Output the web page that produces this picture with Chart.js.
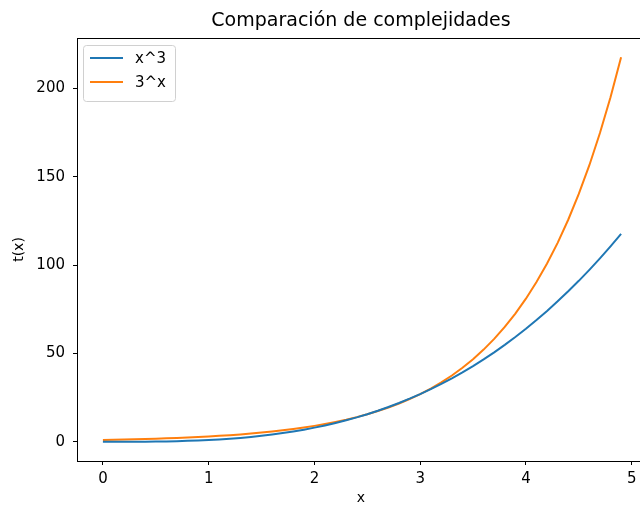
<!DOCTYPE html>
<html>
<head>
<meta charset="utf-8">
<script src="https://cdn.jsdelivr.net/npm/chart.js@4.4.0/dist/chart.umd.min.js"></script>
<style>
  html, body { margin: 0; padding: 0; background: #fff; overflow: hidden; }
  #wrap { width: 700px; height: 506px; }
</style>
</head>
<body>
<div id="wrap"><canvas id="myChart" width="700" height="506"></canvas></div>
<script>
// x values 0 .. 4.9
const xs = [0, 0.1, 0.2, 0.3, 0.4, 0.5, 0.6, 0.7, 0.8, 0.9,
  1, 1.1, 1.2, 1.3, 1.4, 1.5, 1.6, 1.7, 1.8, 1.9,
  2, 2.1, 2.2, 2.3, 2.4, 2.5, 2.6, 2.7, 2.8, 2.9,
  3, 3.1, 3.2, 3.3, 3.4, 3.5, 3.6, 3.7, 3.8, 3.9,
  4, 4.1, 4.2, 4.3, 4.4, 4.5, 4.6, 4.7, 4.8, 4.9];

const cubic = [0, 0.001, 0.008, 0.027, 0.064, 0.125, 0.216, 0.343, 0.512, 0.729,
  1, 1.331, 1.728, 2.197, 2.744, 3.375, 4.096, 4.913, 5.832, 6.859,
  8, 9.261, 10.648, 12.167, 13.824, 15.625, 17.576, 19.683, 21.952, 24.389,
  27, 29.791, 32.768, 35.937, 39.304, 42.875, 46.656, 50.653, 54.872, 59.319,
  64, 68.921, 74.088, 79.507, 85.184, 91.125, 97.336, 103.823, 110.592, 117.649];

const expo = [1, 1.116, 1.246, 1.39, 1.552, 1.732, 1.933, 2.158, 2.408, 2.688,
  3, 3.348, 3.737, 4.171, 4.656, 5.196, 5.8, 6.473, 7.225, 8.064,
  9, 10.045, 11.212, 12.514, 13.967, 15.588, 17.399, 19.419, 21.674, 24.191,
  27, 30.135, 33.635, 37.541, 41.9, 46.765, 52.196, 58.257, 65.022, 72.573,
  81, 90.406, 100.904, 112.622, 125.7, 140.296, 156.588, 174.772, 195.062, 217.716];

const xTicks = [0, 1, 2, 3, 4, 5];
const yTicks = [0, 50, 100, 150, 200];
const labels = ["x^3", "3^x"];

const FONT = "'DejaVu Sans', sans-serif";

// matplotlib-ish frame, title, axis labels and legend
const decor = {
  id: "decor",
  afterDraw(chart) {
    const { ctx, chartArea: a } = chart;
    ctx.save();
    ctx.strokeStyle = "#000";
    ctx.lineWidth = 1;
    ctx.strokeRect(a.left + 0.5, a.top + 0.5, a.right - a.left, a.bottom - a.top);

    ctx.fillStyle = "#000";
    ctx.textAlign = "center";
    ctx.textBaseline = "middle";
    ctx.font = "19px " + FONT;
    ctx.fillText("Comparación de complejidades", (a.left + a.right) / 2 - 1, 21);
    ctx.font = "14px " + FONT;
    ctx.fillText("x", (a.left + a.right) / 2 - 1, 498);
    ctx.save();
    ctx.translate(19, (a.top + a.bottom) / 2);
    ctx.rotate(-Math.PI / 2);
    ctx.fillText("t(x)", 0, 0);
    ctx.restore();

    // legend
    const bx = a.left + 6, by = a.top + 7, bw = 92, bh = 56;
    ctx.beginPath();
    ctx.roundRect(bx + 0.5, by + 0.5, bw, bh, 3);
    ctx.fillStyle = "rgba(255,255,255,0.8)";
    ctx.fill();
    ctx.strokeStyle = "#d0d0d0";
    ctx.stroke();
    ctx.font = "15px " + FONT;
    ctx.textAlign = "left";
    chart.data.datasets.forEach((ds, i) => {
      const y = by + 13 + i * 24;
      ctx.strokeStyle = ds.borderColor;
      ctx.lineWidth = 2;
      ctx.beginPath();
      ctx.moveTo(bx + 7, y);
      ctx.lineTo(bx + 40, y);
      ctx.stroke();
      ctx.fillStyle = "#000";
      ctx.fillText(ds.label, bx + 52, y + 1);
    });
    ctx.restore();
  }
};

new Chart(document.getElementById("myChart"), {
  type: "line",
  data: {
    datasets: [
      {
        label: labels[0],
        data: xs.map((x, i) => ({ x: x, y: cubic[i] })),
        borderColor: "#1f77b4",
        borderWidth: 2,
        pointRadius: 0,
        tension: 0
      },
      {
        label: labels[1],
        data: xs.map((x, i) => ({ x: x, y: expo[i] })),
        borderColor: "#ff7f0e",
        borderWidth: 2,
        pointRadius: 0,
        tension: 0
      }
    ]
  },
  options: {
    responsive: false,
    animation: false,
    layout: { padding: { top: 38, right: 53, left: 0, bottom: 0 } },
    plugins: {
      legend: { display: false },
      title: { display: false },
      tooltip: { enabled: false }
    },
    scales: {
      x: {
        type: "linear",
        min: -0.245,
        max: 5.145,
        afterBuildTicks: (s) => { s.ticks = xTicks.map(v => ({ value: v })); },
        afterFit: (s) => { s.height = 45; },
        grid: { drawOnChartArea: false, drawTicks: true, tickLength: 4, color: "#000" },
        border: { display: true, color: "#000" },
        ticks: { color: "#000", font: { family: FONT, size: 15 }, padding: 5, maxRotation: 0 }
      },
      y: {
        type: "linear",
        min: -10.886,
        max: 228.6,
        afterBuildTicks: (s) => { s.ticks = yTicks.map(v => ({ value: v })); },
        afterFit: (s) => { s.width = 77; },
        grid: { drawOnChartArea: false, drawTicks: true, tickLength: 4, color: "#000" },
        border: { display: true, color: "#000" },
        ticks: { color: "#000", font: { family: FONT, size: 15 }, padding: 8 }
      }
    }
  },
  plugins: [decor]
});
</script>
</body>
</html>
